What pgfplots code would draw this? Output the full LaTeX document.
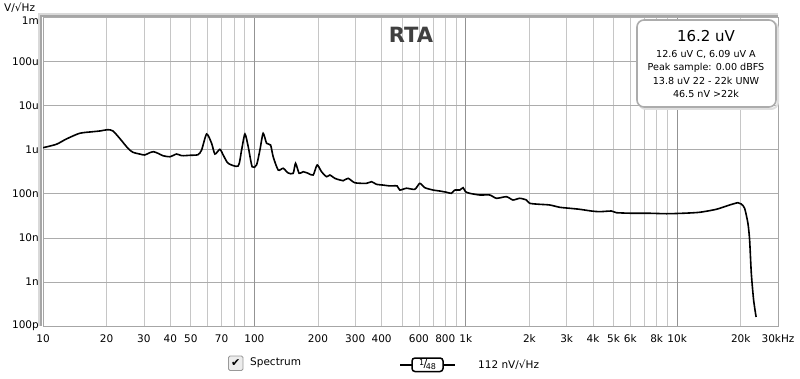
\documentclass[border=0pt]{standalone}
\usepackage{fontspec}
\setmainfont{DejaVu Sans}
\usepackage{pgfplots}
\pgfplotsset{compat=1.18}
\begin{document}
\begin{tikzpicture}[x=1pt,y=1pt]
\useasboundingbox (0,0) rectangle (800,378);
\fill[white] (0,0) rectangle (800,378);
\begin{axis}[
  at={(43pt,52pt)}, anchor=south west,
  scale only axis, width=735pt, height=308.7pt,
  xmode=log, ymode=log,
  xmin=10, xmax=30000, ymin=1e-10, ymax=1e-3,
  xtick={10,20,30,40,50,70,100,200,300,400,600,800,1000,2000,3000,4000,5000,6000,8000,10000,20000,30000},
  xticklabels={10,20,30,40,50,70,100,200,300,400,600,800,1k,2k,3k,4k,5k,6k,8k,10k,20k,30kHz},
  minor xtick={20,30,40,50,60,70,80,90,200,300,400,500,600,700,800,900,2000,3000,4000,5000,6000,7000,8000,9000,20000},
  extra x ticks={100,1000,10000},
  extra x tick labels={\mbox{},\mbox{},\mbox{}},
  extra x tick style={grid=major, major grid style={draw=gray!85, line width=0.6pt}},
  ytick={1e-10,1e-9,1e-8,1e-7,1e-6,1e-5,1e-4},
  yticklabels={100p,1n,10n,100n,1u,10u,100u},
  extra y ticks={1e-3},
  extra y tick labels={1m},
  extra y tick style={yticklabel style={yshift=-3.5pt}},
  xminorgrids=true, xmajorgrids=false, ymajorgrids=true,
  minor grid style={draw=gray!45, line width=0.6pt},
  major grid style={draw=gray!65, line width=0.6pt},
  tick style={draw=none},
  axis line style={draw=gray!70, line width=0.8pt},
  ticklabel style={font=\fontsize{10.5}{12}\selectfont, text=black},
  xticklabel style={anchor=north, inner sep=0pt, yshift=-8pt},
  yticklabel style={anchor=east, inner sep=0pt, xshift=-4pt},
]
\addplot[black, line width=1.6pt, smooth, tension=0.4] coordinates {
(10,1.104e-6) (11.56,1.318e-6) (12.89,1.738e-6) (14.91,2.344e-6) (17.23,2.547e-6)
(18.54,2.642e-6) (20.29,2.825e-6) (21.43,2.642e-6) (23.05,1.803e-6) (25.23,1.069e-6)
(26.65,8.69e-7) (28.66,7.94e-7) (30.27,7.55e-7) (31.96,8.51e-7) (33.38,8.95e-7)
(34.98,8.24e-7) (36.93,7.28e-7) (39.86,6.90e-7) (42.88,7.94e-7) (45.28,7.28e-7)
(49.55,7.43e-7) (54.06,7.66e-7) (56.28,9.79e-7) (59.43,2.26e-6) (62.75,1.39e-6)
(65.04,7.94e-7) (68.68,1.016e-6) (71.2,7.55e-7) (75.18,4.89e-7) (83.82,4.25e-7)
(87.0,9.79e-7) (90.2,2.26e-6) (93.5,1.164e-6) (97.6,4.09e-7) (102.4,4.48e-7)
(106.2,9.79e-7) (110.0,2.34e-6) (114.2,1.39e-6) (119.3,1.27e-6) (122.7,6.90e-7)
(129.6,3.44e-7) (136.8,3.77e-7) (144.5,2.95e-7) (152.6,2.90e-7) (156.6,4.89e-7)
(162.8,2.90e-7) (170.1,3.15e-7) (179.6,2.90e-7) (189.7,2.65e-7) (198.2,4.48e-7)
(207.8,3.15e-7) (219.5,2.43e-7) (227.5,2.65e-7) (240.2,2.23e-7) (253.7,2.05e-7)
(263.0,1.97e-7) (277.7,2.23e-7) (298.7,1.77e-7) (339.2,1.72e-7) (358.2,1.87e-7)
(378.3,1.63e-7) (406.4,1.57e-7) (437.2,1.50e-7) (473.3,1.50e-7) (487.4,1.21e-7)
(524.3,1.33e-7) (574.1,1.26e-7) (606.2,1.72e-7) (640.1,1.37e-7) (700.6,1.21e-7)
(753.9,1.15e-7) (810.4,1.08e-7) (855.9,1.02e-7) (887.2,1.21e-7) (936.8,1.21e-7)
(971.1,1.37e-7) (996.7,1.11e-7) (1044.5,1.02e-7) (1165,9.35e-8) (1299,9.35e-8)
(1397,7.87e-8) (1557,8.55e-8) (1673,7.20e-8) (1800,7.87e-8) (1936,7.20e-8)
(2007,6.05e-8) (2238,5.75e-8) (2496,5.55e-8) (2783,4.92e-8) (3103,4.67e-8)
(3459,4.43e-8) (3929,4.05e-8) (4301,3.91e-8) (4886,4.05e-8) (5159,3.71e-8)
(6180,3.60e-8) (7413,3.60e-8) (8889,3.52e-8) (10652,3.60e-8) (12777,3.79e-8)
(15320,4.43e-8) (17712,5.55e-8) (19392,6.25e-8) (20119,5.83e-8) (20853,4.67e-8)
(21617,2.13e-8) (22020,8.9e-9) (22428,1.57e-9) (22998,3.89e-10) (23630,1.60e-10)
};
\end{axis}
% shaded left/top frame
\draw[gray!30, line width=1.6pt] (39.2,52) -- (39.2,364.2) -- (778,364.2);
\draw[gray!70, line width=1.6pt] (41.2,52) -- (41.2,362.2) -- (778,362.2);
% y unit
\node[anchor=west, inner sep=0pt] at (4,370) {\fontsize{10.5}{12}\selectfont V/√Hz};
% title
\node[font=\bfseries\fontsize{21}{24}\selectfont, text=black!75] at (411,343) {RTA};
% info box
\draw[gray!25, line width=2pt, rounded corners=7pt] (639,269) rectangle (778,356);
\draw[gray!65, line width=1.6pt, rounded corners=7pt, fill=white] (637,271) rectangle (776,358);
\node at (706,342) {\fontsize{15}{17}\selectfont 16.2 uV};
\node at (706,323.5) {\fontsize{9.6}{11}\selectfont 12.6 uV C, 6.09 uV A};
\node at (706,310.5) {\fontsize{9.6}{11}\selectfont Peak sample: 0.00 dBFS};
\node at (706,297.5) {\fontsize{9.6}{11}\selectfont 13.8 uV 22 - 22k UNW};
\node at (706,284.5) {\fontsize{9.6}{11}\selectfont 46.5 nV >22k};
% bottom legend
\draw[rounded corners=1.5pt, draw=gray!80, fill=gray!15, line width=0.8pt] (228.5,7.5) rectangle (243,22);
\node at (235.8,14.8) {\fontsize{11}{12}\selectfont ✔};
\node[anchor=west, inner sep=0pt] at (250,15) {\fontsize{10.5}{12}\selectfont Spectrum};
\draw[line width=1.5pt] (400,13) -- (455,13);
\draw[line width=1.5pt, rounded corners=3pt, fill=white] (412,6.5) rectangle (443,20);
\node at (427.5,13.2) {\fontsize{8}{9}\selectfont\raisebox{2pt}{1}\kern-0.5pt\fontsize{11}{12}\selectfont/\kern-1.5pt\fontsize{8}{9}\selectfont\raisebox{-2pt}{48}};
\node[anchor=west, inner sep=0pt] at (478,13) {\fontsize{10.5}{12}\selectfont 112 nV/√Hz};
\end{tikzpicture}
\end{document}
